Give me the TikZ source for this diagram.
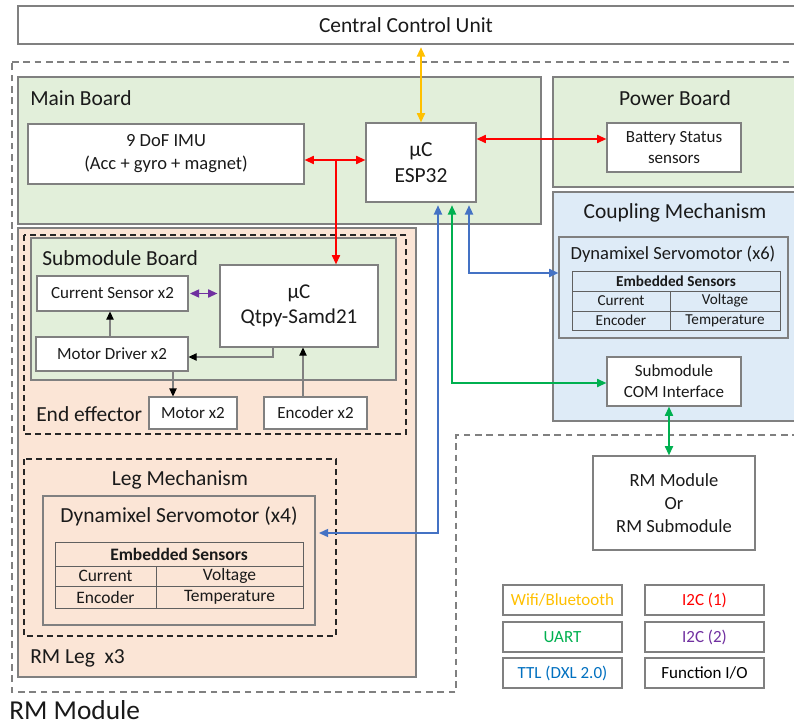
\documentclass[tikz,border=0pt]{standalone}
\usepackage{fontspec}
\setmainfont{Carlito}
\usetikzlibrary{arrows.meta,calc}
\definecolor{gfill}{HTML}{E2EFDA}
\definecolor{ofill}{HTML}{FBE5D6}
\definecolor{bfill}{HTML}{DEEBF7}
\definecolor{bord}{HTML}{808080}
\definecolor{tline}{HTML}{606060}
\definecolor{cred}{HTML}{FF0000}
\definecolor{cyel}{HTML}{FFC000}
\definecolor{cgrn}{HTML}{00B050}
\definecolor{cblu}{HTML}{4472C4}
\definecolor{ctxtblu}{HTML}{0070C0}
\definecolor{cpur}{HTML}{7030A0}
\definecolor{txt}{HTML}{1A1A1A}
\newcommand\fT{\fontsize{16.1}{20}\selectfont}
\newcommand\fQ{\fontsize{15.8}{19}\selectfont}
\newcommand\fM{\fontsize{13.9}{17.2}\selectfont}
\newcommand\fS{\fontsize{12.75}{15.8}\selectfont}
\newcommand\fX{\fontsize{11.4}{14}\selectfont}
\newcommand\fY{\fontsize{13.1}{15}\selectfont}
\newcommand\fL{\fontsize{20.5}{24}\selectfont}
% \mybox{name}{x1}{y1}{x2}{y2}{style}{text}
\newcommand\mybox[7]{\node[#6, minimum width={(#4-#2)*0.75pt}, minimum height={(#5-#3)*0.75pt}] (#1) at ({(#2+#4)/2},{(#3+#5)/2}) {#7};}
\begin{document}
\begin{tikzpicture}[x=0.75pt,y=-0.75pt,
  every node/.style={text=txt},
  box/.style={draw=bord, fill=white, line width=0.8pt, inner sep=0pt, align=center},
  area/.style={draw=bord, line width=0.8pt, inner sep=0pt},
  clear/.style={draw=bord, line width=0.8pt, inner sep=0pt},
  tbl/.style={draw=tline, line width=0.7pt},
  lbl/.style={inner sep=0pt, anchor=west},
  ctr/.style={inner sep=0pt, align=center},
  dsh/.style={draw=black!85, line width=1.3pt, dash pattern=on 4.5pt off 3pt},
  conn/.style={line width=1.4pt, {Triangle[length=7pt,width=6pt]}-{Triangle[length=7pt,width=6pt]}},
  redc/.style={conn, draw=cred, fill=cred},
  ylwc/.style={conn, draw=cyel},
  grnc/.style={conn, draw=cgrn},
  bluc/.style={conn, draw=cblu},
  purc/.style={conn, draw=cpur},
  blk/.style={draw=bord, line width=0.8pt, -{Triangle[length=6pt,width=5.5pt,color=black]}}
]
\useasboundingbox (0,0) rectangle (794,725);
\fill[white] (0,0) rectangle (794,725);

% Central control unit
\mybox{ccu}{18}{6}{797}{44}{box}{}
\node[ctr, font=\fT] (ccut) at (406,25) {Central Control Unit};

% RM module dashed outline
\draw[draw=bord, line width=0.8pt, dash pattern=on 5pt off 3.5pt]
  (12,62) -- (797,62) -- (797,435) -- (456,435) -- (456,692) -- (12,692) -- cycle;

% Main board
\mybox{mb}{18}{77}{541}{224}{area, fill=gfill}{}
\node[lbl, font=\fT] (mbt) at (30,98) {Main Board};
\mybox{imu}{28}{124}{304}{184}{box, font=\fM}{9 DoF IMU\\(Acc + gyro + magnet)}
\mybox{esp}{366}{123}{476}{202}{box, font=\fT}{µC\\ESP32}

% Power board
\mybox{pb}{553}{77}{797}{187}{area, fill=gfill}{}
\node[ctr, font=\fT] (pbt) at (675,98) {Power Board};
\mybox{bat}{607}{123}{741}{172}{box, font=\fS}{Battery Status\\sensors}

% Coupling mechanism
\mybox{cm}{553}{192}{797}{421}{area, fill=bfill}{}
\node[ctr, font=\fT] (cmt) at (675,213) {Coupling Mechanism};
\mybox{dx6}{559}{237}{788}{338}{clear}{}
\node[ctr, font=\fM] (dx6t) at (673,254) {Dynamixel Servomotor (x6)};
\draw[tbl] (572,271) rectangle (780,330);
\draw[tbl] (572,291) -- (780,291) (572,311) -- (780,311) (670,291) -- (670,330);
\node[ctr, font=\fX\bfseries] (e6h) at (676,281) {Embedded Sensors};
\node[ctr, font=\fX] (e6a) at (621,301) {Current};
\node[ctr, font=\fX] (e6b) at (725,301) {Voltage};
\node[ctr, font=\fX] (e6c) at (621,320.5) {Encoder};
\node[ctr, font=\fX] (e6d) at (725,320.5) {Temperature};
\mybox{com}{607}{357}{741}{406}{box, font=\fS}{Submodule\\COM Interface}

% RM Leg
\mybox{leg}{18}{228}{416}{677}{area, fill=ofill}{}
\node[lbl, font=\fT] (legt) at (30,658) {RM Leg~~x3};

% End effector
\draw[dsh] (24,235) rectangle (406,434);
\mybox{smb}{31}{238}{396}{380}{area, fill=gfill}{}
\node[lbl, font=\fT] (smbt) at (42,258) {Submodule Board};
\mybox{cs}{37}{276}{188}{311}{box, font=\fS}{Current Sensor x2}
\mybox{md}{36}{337}{188}{371}{box, font=\fS}{Motor Driver x2}
\mybox{qt}{220}{265}{378}{347}{box, font=\fQ}{µC\\Qtpy-Samd21}
\mybox{mot}{149}{397}{237}{429}{box, font=\fS}{Motor x2}
\mybox{enc}{264}{397}{367}{429}{box, font=\fS}{Encoder x2}
\node[lbl, font=\fT] (eet) at (36,414) {End effector};

% Leg mechanism
\draw[dsh] (24,459) rectangle (336,636);
\node[ctr, font=\fT] (lmt) at (180,480) {Leg Mechanism};
\mybox{dx4}{43}{496}{315}{625}{clear}{}
\node[ctr, font=\fT] (dx4t) at (179,516) {Dynamixel Servomotor (x4)};
\draw[tbl] (55,542) rectangle (303,608);
\draw[tbl] (55,566) -- (303,566) (55,586) -- (303,586) (156,566) -- (156,608);
\node[ctr, font=\fY\bfseries] (e4h) at (179,554) {Embedded Sensors};
\node[ctr, font=\fY] (e4a) at (105.5,576) {Current};
\node[ctr, font=\fY] (e4b) at (229.5,576) {Voltage};
\node[ctr, font=\fY] (e4c) at (105.5,597) {Encoder};
\node[ctr, font=\fY] (e4d) at (229.5,597) {Temperature};

% RM module / submodule
\mybox{rmm}{593}{456}{755}{550}{box, font=\fM}{RM Module\\Or\\RM Submodule}

% Legend
\mybox{lg1}{503}{585}{622}{615}{box, font=\fS, text=cyel}{Wifi/Bluetooth}
\mybox{lg2}{503}{622}{622}{652}{box, font=\fS, text=cgrn}{UART}
\mybox{lg3}{503}{658}{622}{688}{box, font=\fS, text=ctxtblu}{TTL (DXL 2.0)}
\mybox{lg4}{645}{585}{764}{615}{box, font=\fS, text=cred}{I2C (1)}
\mybox{lg5}{645}{622}{764}{652}{box, font=\fS, text=cpur}{I2C (2)}
\mybox{lg6}{645}{658}{764}{688}{box, font=\fS, text=black}{Function I/O}

\node[inner sep=0pt, anchor=base west, font=\fL] (rmt) at (9,719) {RM Module};

% Connectors
\draw[ylwc, shorten <=2pt] (ccu.south -| esp.north) -- (esp.north);
\coordinate (rj) at (336,160);
\draw[redc] (imu.east |- rj) -- (esp.west |- rj);
\draw[draw=cred, line width=1.4pt, -{Triangle[length=7pt,width=6pt]}] (rj) -- (qt.north -| rj);
\coordinate (rb) at (0,139);
\draw[redc] (esp.east |- rb) -- (bat.west |- rb);

\coordinate (b1) at (438,533);
\draw[bluc, shorten <=2pt, shorten >=2.5pt] (esp.south -| b1) -- (b1) -- (dx4.east |- b1);
\coordinate (b2) at (469,273);
\draw[bluc, shorten <=2pt] (esp.south -| b2) -- (b2) -- (dx6.west |- b2);
\coordinate (g1) at (452,383);
\draw[grnc, shorten <=2pt] (esp.south -| g1) -- (g1) -- (com.west |- g1);
\coordinate (g2) at (669,0);
\draw[grnc] (com.south -| g2) -- (rmm.north -| g2);

\draw[purc, shorten <=1pt, shorten >=1.5pt] (cs.east) -- (qt.west |- cs.east);

\coordinate (k1) at (110,0);
\draw[blk] (md.north -| k1) -- (cs.south -| k1);
\coordinate (k2) at (273,357);
\draw[blk] (qt.south -| k2) -- (k2) -- (md.east |- k2);
\coordinate (k3) at (173,0);
\draw[blk] (md.south -| k3) -- (mot.north -| k3);
\coordinate (k4) at (303,0);
\draw[blk] (enc.north -| k4) -- (qt.south -| k4);
\end{tikzpicture}
\end{document}
